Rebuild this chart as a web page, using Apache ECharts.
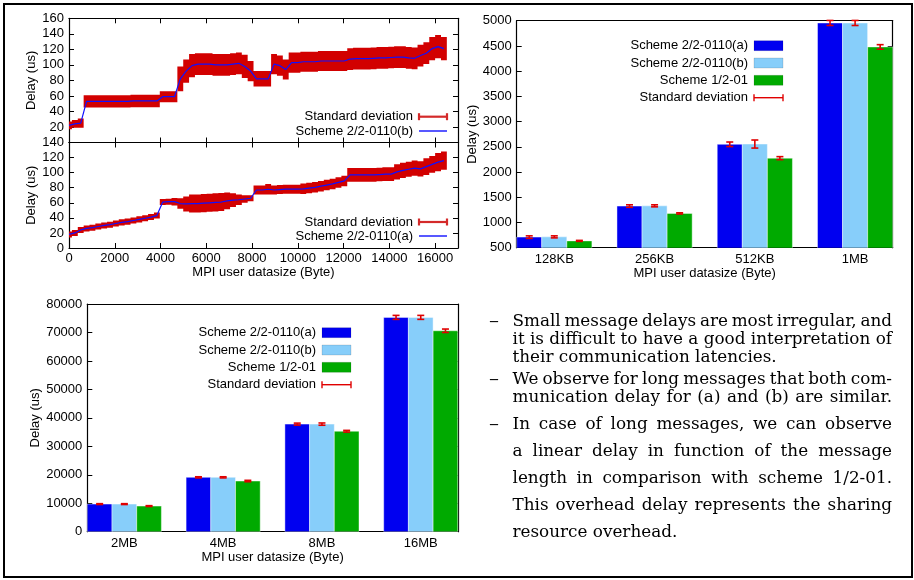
<!DOCTYPE html>
<html>
<head>
<meta charset="utf-8">
<script src="https://cdn.jsdelivr.net/npm/echarts@6/dist/echarts.min.js"></script>
<style>
  html, body { margin: 0; padding: 0; background: #fff; }
  #c { width: 914px; height: 580px; }
</style>
</head>
<body>
<div id="c"></div>
<script>
// ---- Small-message sweep (bytes) ----
const sweepSizes = [0,256,512,768,1024,1280,1536,1792,2048,2304,2560,2816,3072,3328,3584,3840,
  4096,4352,4608,4864,5120,5376,5632,5888,6144,6400,6656,6912,7168,7424,7680,7936,
  8192,8448,8704,8960,9216,9472,9728,9984,10240,10496,10752,11008,11264,11520,11776,12032,
  12288,12544,12800,13056,13312,13568,13824,14080,14336,14592,14848,15104,15360,15616,15872,16128,16384];

// Scheme 2/2-0110(b): mean delay (us) and standard deviation
const delayB = [22,24,25,53,53,53,53,53,53,53,53,53.5,53.5,53.5,53.5,53.5,
  59,59,59,82,92,99,101,101,101,100,100,100,101,102,98,92,
  82,82,82,101,99,94,103,103,104,104,104,105,105,105,105,105,
  107.5,108,108,108,108.5,109,109,109.5,110,110,109,108.5,112,115,121,123.5,121];
const sdB = [5,5,6,8,8,8,8,8,8,8,8,8,8,8,8,8,
  7,7,7,16,15,15,14,14,14,14,14,14,14,14,15,13,
  10,10,10,13,13,13,13,13,13,13,13,13,13,13,13,13,
  14,14,14,14,14,14,14,14,14,14,14,14,14,14,15,15,15];

// Scheme 2/2-0110(a): mean delay (us) and standard deviation
const delayA = [18,20,24,26,27,28.5,30,31,32.5,34,35,36.5,38,39.5,41,43,
  61,61.5,61.5,59,58.5,59,59,59.5,60,60.5,61,62.5,63.5,64,65,66,
  77,77,78,77,77.5,78,78,78,78.5,79.5,80.5,82,83.5,85,87,89,
  97,97,97,97,97,97.5,98,98,101,103,104.5,106,105,108,111,114,116];
const sdA = [4,4,4,4,4,4,4,4,4,4,4,4,4,4,4,4,
  4,4,5,7,10,12,12,12,12,12,12,11,9,7,5,4,
  6,6,7,6,6,6,6,6,7,7,7,7,7,7,7,7,
  9,9,9,9,9,9,9,9,10,10,10,10,10,11,11,12,12];

// ---- Medium messages ----
const midSizes = ['128KB','256KB','512KB','1MB'];
const midA = [710,1325,2550,4955];
const midAErr = [25,25,45,50];
const midB = [715,1330,2555,4955];
const midBErr = [20,20,80,50];
const midC = [635,1180,2275,4480];
const midCErr = [10,12,30,45];

// ---- Large messages ----
const largeSizes = ['2MB','4MB','8MB','16MB'];
const largeA = [9700,19100,37800,75300];
const largeAErr = [150,200,350,700];
const largeB = [9700,19100,37800,75300];
const largeBErr = [150,200,400,700];
const largeC = [9000,17800,35300,70600];
const largeCErr = [150,250,300,600];

const schemeNames = ['Scheme 2/2-0110(a)','Scheme 2/2-0110(b)','Scheme 1/2-01'];
const devName = 'Standard deviation';
const barColors = ['#0000f0','#87cefa','#00aa00'];
const errColor = '#e00000';

// ---- Notes beside the charts ----
const notes = [
  { dash: true,  justify: true,  text: 'Small message delays are most irregular, and' },
  { dash: false, justify: true,  text: 'it is difficult to have a good interpretation of' },
  { dash: false, justify: false, text: 'their communication latencies.' },
  { dash: true,  justify: true,  text: 'We observe for long messages that both com-' },
  { dash: false, justify: true,  text: 'munication delay for (a) and (b) are similar.' },
  { dash: true,  justify: true,  text: 'In case of long messages, we can observe' },
  { dash: false, justify: true,  text: 'a linear delay in function of the message' },
  { dash: false, justify: true,  text: 'length in comparison with scheme 1/2-01.' },
  { dash: false, justify: true,  text: 'This overhead delay represents the sharing' },
  { dash: false, justify: false, text: 'resource overhead.' }
];
const noteRows = [321.5, 340, 358, 379.5, 398, 425, 452, 479, 506, 533];

// ------------------------------------------------------------------
const SANS = '"Liberation Sans", Arial, Helvetica, sans-serif';
const txt = { fontFamily: SANS, fontSize: 13, color: '#000' };
const plain = (v) => String(v);
const boxLine = { show: true, onZero: false, lineStyle: { color: '#000', width: 1.2 } };
const tickIn = { show: true, inside: true, length: 5, lineStyle: { color: '#000', width: 1 } };

function xAx(grid, min, max, interval, extra) {
  return Object.assign({
    type: 'value', gridIndex: grid, min, max, interval,
    axisLine: boxLine, axisTick: tickIn, splitLine: { show: false },
    axisLabel: { show: false }
  }, extra || {});
}
function yAx(grid, min, max, interval, extra) {
  return Object.assign({
    type: 'value', gridIndex: grid, min, max, interval,
    axisLine: boxLine, axisTick: tickIn, splitLine: { show: false },
    axisLabel: { show: false }
  }, extra || {});
}

const sweepHalf = (sweepSizes[1] - sweepSizes[0]) / 2;

// error band: a single stepped outline, mean +/- sd around every measurement
function bandRenderer(means, sds) {
  return function (params, api) {
    if (params.dataIndex !== 0) return null;
    const upper = [], lower = [];
    sweepSizes.forEach((x, i) => {
      upper.push(api.coord([x - sweepHalf, means[i] + sds[i]]));
      upper.push(api.coord([x + sweepHalf, means[i] + sds[i]]));
      lower.push(api.coord([x - sweepHalf, means[i] - sds[i]]));
      lower.push(api.coord([x + sweepHalf, means[i] - sds[i]]));
    });
    return { type: 'polygon', shape: { points: upper.concat(lower.reverse()) },
             style: { fill: '#d20000' } };
  };
}

function barItem(offset, color) {
  return function (params, api) {
    const i = api.value(0), v = api.value(1);
    const p0 = api.coord([i + offset - 0.125, v]);
    const p1 = api.coord([i + offset + 0.125, 0]);
    return { type: 'rect', shape: { x: p0[0], y: p0[1], width: p1[0] - p0[0], height: p1[1] - p0[1] },
             style: { fill: color, stroke: 'rgba(255,255,255,0.55)', lineWidth: 0.8 } };
  };
}

function errItem(offset) {
  return function (params, api) {
    const i = api.value(0), v = api.value(1), e = api.value(2);
    const hi = api.coord([i + offset, v + e]);
    const lo = api.coord([i + offset, v - e]);
    const st = { stroke: errColor, lineWidth: 1.6 };
    return { type: 'group', children: [
      { type: 'line', shape: { x1: hi[0], y1: hi[1], x2: lo[0], y2: lo[1] }, style: st },
      { type: 'line', shape: { x1: hi[0] - 3.5, y1: hi[1], x2: hi[0] + 3.5, y2: hi[1] }, style: st },
      { type: 'line', shape: { x1: lo[0] - 3.5, y1: lo[1], x2: lo[0] + 3.5, y2: lo[1] }, style: st }
    ]};
  };
}

function barSeries(axis, vals, errs) {
  const offsets = [-0.25, 0, 0.25];
  const out = [];
  vals.forEach((arr, k) => {
    out.push({ type: 'custom', name: schemeNames[k], xAxisIndex: axis, yAxisIndex: axis, clip: true,
      renderItem: barItem(offsets[k], barColors[k]), z: 2,
      data: arr.map((v, i) => [i, v]) });
  });
  errs.forEach((arr, k) => {
    out.push({ type: 'custom', name: devName, xAxisIndex: axis, yAxisIndex: axis, clip: false,
      renderItem: errItem(offsets[k]), z: 3,
      data: arr.map((e, i) => [i, vals[k][i], e]) });
  });
  return out;
}

// ---- legends (gnuplot style: text then sample) ----
function legendText(xRight, y, label) {
  return { type: 'text', x: xRight, y: y, z: 10,
    style: { text: label, font: '13px ' + SANS, fill: '#000', textAlign: 'right', textVerticalAlign: 'middle' } };
}
function legendBox(x0, y, label, color) {
  return [legendText(x0 - 6, y, label),
    { type: 'rect', z: 10, shape: { x: x0, y: y - 5, width: 29, height: 10 },
      style: { fill: color, stroke: 'rgba(0,0,0,0.2)', lineWidth: 0.6 } }];
}
function legendErr(x0, y, label, width, thick) {
  const st = { stroke: thick ? '#d42a2a' : errColor, lineWidth: thick ? 2.2 : 1.4 };
  return [legendText(x0 - 6, y, label),
    { type: 'line', z: 10, shape: { x1: x0, y1: y, x2: x0 + width, y2: y }, style: st },
    { type: 'line', z: 10, shape: { x1: x0, y1: y - 3.5, x2: x0, y2: y + 3.5 }, style: st },
    { type: 'line', z: 10, shape: { x1: x0 + width, y1: y - 3.5, x2: x0 + width, y2: y + 3.5 }, style: st }];
}
function legendLine(x0, y, label, width) {
  return [legendText(x0 - 6, y, label),
    { type: 'line', z: 10, shape: { x1: x0, y1: y, x2: x0 + width, y2: y },
      style: { stroke: '#1010ff', lineWidth: 1.4 } }];
}

// ---- note text, justified word by word ----
const NOTE_FONT_SIZE = 16;
const NOTE_FAMILY = '"DejaVu Serif", "Liberation Serif", serif';
const NOTE_LEFT = 512.5, NOTE_RIGHT = 892;
function noteGraphics() {
  const cv = document.createElement('canvas').getContext('2d');
  cv.font = NOTE_FONT_SIZE + 'px ' + NOTE_FAMILY;
  const sx = (NOTE_RIGHT - NOTE_LEFT) / cv.measureText(notes[1].text).width;
  const space = cv.measureText(' ').width * sx;
  const els = [];
  notes.forEach((ln, r) => {
    const y = noteRows[r];
    const words = ln.text.split(' ');
    const widths = words.map(w => cv.measureText(w).width * sx);
    const total = widths.reduce((a, b) => a + b, 0);
    const gap = ln.justify && words.length > 1 ? (NOTE_RIGHT - NOTE_LEFT - total) / (words.length - 1) : space;
    let x = NOTE_LEFT;
    words.forEach((w, i) => {
      els.push({ type: 'text', x: x, y: y, scaleX: sx, z: 10,
        style: { text: w, font: NOTE_FONT_SIZE + 'px ' + NOTE_FAMILY, fill: '#000', textVerticalAlign: 'middle' } });
      x += widths[i] + gap;
    });
    if (ln.dash) {
      els.push({ type: 'text', x: 489, y: y, z: 10, scaleX: 1.25,
        style: { text: '\u2013', font: NOTE_FONT_SIZE + 'px ' + NOTE_FAMILY, fill: '#000', textVerticalAlign: 'middle' } });
    }
  });
  return els;
}

const graphics = [
  { type: 'rect', z: 0, shape: { x: 4, y: 4, width: 908, height: 573 },
    style: { fill: 'none', stroke: '#000', lineWidth: 2 } }
]
  .concat(legendErr(419, 116.7, devName, 28, true))
  .concat(legendLine(419, 131, schemeNames[1], 28))
  .concat(legendErr(419, 222, devName, 28, true))
  .concat(legendLine(419, 236, schemeNames[0], 28))
  .concat(legendBox(754, 45.7, schemeNames[0], barColors[0]))
  .concat(legendBox(754, 63, schemeNames[1], barColors[1]))
  .concat(legendBox(754, 80.3, schemeNames[2], barColors[2]))
  .concat(legendErr(754, 97.7, devName, 29, false))
  .concat(legendBox(322, 332.7, schemeNames[0], barColors[0]))
  .concat(legendBox(322, 350, schemeNames[1], barColors[1]))
  .concat(legendBox(322, 367.3, schemeNames[2], barColors[2]))
  .concat(legendErr(322, 384.7, devName, 29, false))
  .concat(noteGraphics());

const catLabel = (names) => ({ show: true, customValues: [0, 1, 2, 3], margin: 5,
  formatter: (v) => names[Math.round(v)], ...txt });
const numLabel = (more) => Object.assign({ show: true, margin: 5, formatter: plain }, txt, more || {});

const option = {
  animation: false,
  backgroundColor: '#fff',
  grid: [
    { left: 69, top: 18.3, width: 389, height: 124.2 },
    { left: 69, top: 142.5, width: 389, height: 105.5 },
    { left: 516.7, top: 20.7, width: 376, height: 227 },
    { left: 87.3, top: 304, width: 370.5, height: 227.7 }
  ],
  xAxis: [
    xAx(0, 0, 17000, 2000),
    xAx(0, 0, 17000, 2000, { position: 'top' }),
    xAx(1, 0, 17000, 2000, {
      axisLabel: numLabel({ showMaxLabel: false, margin: 4 }),
      name: 'MPI user datasize (Byte)', nameLocation: 'middle', nameGap: 17, nameTextStyle: txt }),
    xAx(1, 0, 17000, 2000, { position: 'top' }),
    xAx(2, -0.375, 3.375, null, { axisTick: { show: false }, axisLabel: catLabel(midSizes),
      name: 'MPI user datasize (Byte)', nameLocation: 'middle', nameGap: 17, nameTextStyle: txt }),
    xAx(2, -0.375, 3.375, null, { position: 'top', axisTick: { show: false } }),
    xAx(3, -0.375, 3.375, null, { axisTick: { show: false }, axisLabel: catLabel(largeSizes),
      name: 'MPI user datasize (Byte)', nameLocation: 'middle', nameGap: 17, nameTextStyle: txt }),
    xAx(3, -0.375, 3.375, null, { position: 'top', axisTick: { show: false } })
  ],
  yAxis: [
    yAx(0, 0, 160, 20, { axisLabel: numLabel({ showMinLabel: false }),
      name: 'Delay (us)', nameLocation: 'middle', nameGap: 31, nameTextStyle: txt }),
    yAx(0, 0, 160, 20, { position: 'right' }),
    yAx(1, 0, 140, 20, { axisLabel: numLabel(),
      name: 'Delay (us)', nameLocation: 'middle', nameGap: 31, nameTextStyle: txt }),
    yAx(1, 0, 140, 20, { position: 'right' }),
    yAx(2, 500, 5000, 500, { axisLabel: numLabel(),
      name: 'Delay (us)', nameLocation: 'middle', nameGap: 33, nameTextStyle: txt }),
    yAx(2, 500, 5000, 500, { position: 'right' }),
    yAx(3, 0, 80000, 10000, { axisLabel: numLabel(),
      name: 'Delay (us)', nameLocation: 'middle', nameGap: 43, nameTextStyle: txt }),
    yAx(3, 0, 80000, 10000, { position: 'right' })
  ],
  series: [
    { type: 'custom', name: devName, xAxisIndex: 0, yAxisIndex: 0, clip: true, z: 2,
      renderItem: bandRenderer(delayB, sdB), data: sweepSizes.map((s, i) => [s, delayB[i], sdB[i]]) },
    { type: 'line', name: schemeNames[1], xAxisIndex: 0, yAxisIndex: 0, z: 3,
      showSymbol: false, lineStyle: { color: '#1010ff', width: 1.2 },
      data: sweepSizes.map((s, i) => [s, delayB[i]]) },
    { type: 'custom', name: devName, xAxisIndex: 2, yAxisIndex: 2, clip: true, z: 2,
      renderItem: bandRenderer(delayA, sdA), data: sweepSizes.map((s, i) => [s, delayA[i], sdA[i]]) },
    { type: 'line', name: schemeNames[0], xAxisIndex: 2, yAxisIndex: 2, z: 3,
      showSymbol: false, lineStyle: { color: '#1010ff', width: 1.2 },
      data: sweepSizes.map((s, i) => [s, delayA[i]]) }
  ]
  .concat(barSeries(4, [midA, midB, midC], [midAErr, midBErr, midCErr]))
  .concat(barSeries(6, [largeA, largeB, largeC], [largeAErr, largeBErr, largeCErr])),
  graphic: graphics
};

const chart = echarts.init(document.getElementById('c'), null, { renderer: 'canvas' });
chart.setOption(option);
</script>
</body>
</html>
